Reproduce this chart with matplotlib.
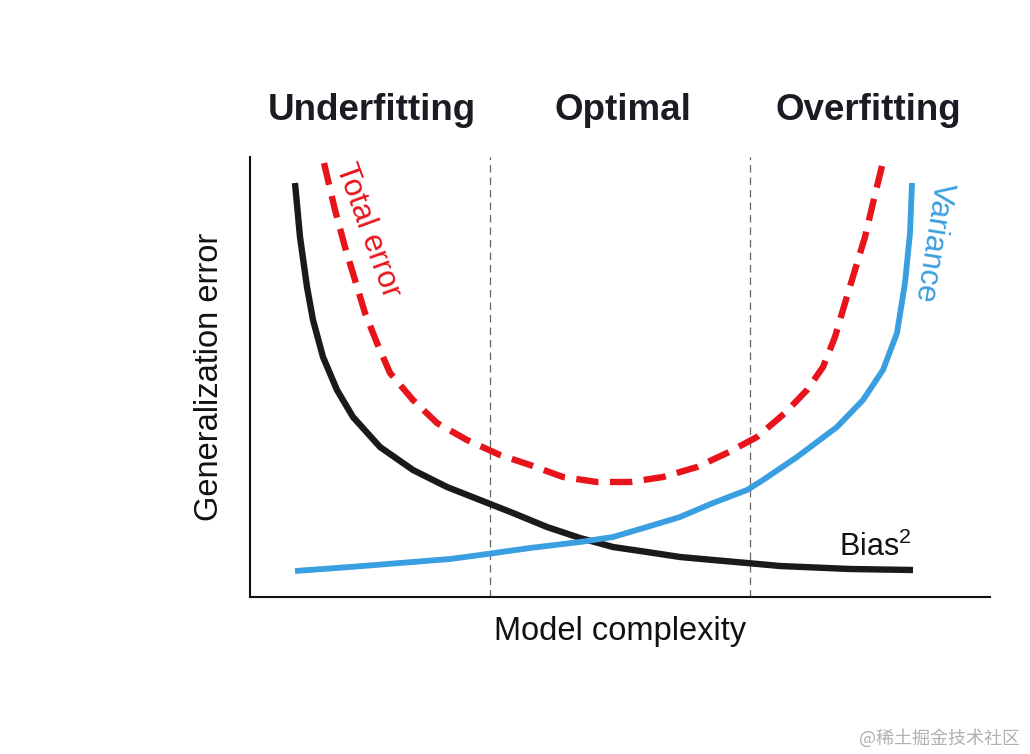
import matplotlib
matplotlib.use("Agg")
import matplotlib.pyplot as plt
import numpy as np

plt.rcParams['font.family'] = ['Liberation Sans', 'DejaVu Sans']
plt.rcParams['mathtext.fontset'] = 'custom'
plt.rcParams['mathtext.rm'] = 'Liberation Sans'
plt.rcParams['mathtext.it'] = 'Liberation Sans'

# Data (arbitrary units: model complexity vs. generalization error)
bias_x = [45, 50, 57, 63, 73, 87, 103, 130, 163, 197, 230, 263, 297, 330, 363,
          397, 430, 463, 497, 530, 600, 663]
bias_y = [414, 360, 310, 277, 240, 207, 180, 150, 127, 110, 97, 84, 70, 59, 50,
          45, 40, 37, 34, 31, 28, 27]

var_x = [45, 100, 150, 200, 230, 280, 330, 363, 397, 430, 463, 497, 513, 547,
         587, 613, 633, 647, 655, 660, 662]
var_y = [26, 30, 34, 38, 42, 49, 55, 60, 70, 80, 94, 107, 117, 140,
         170, 197, 227, 264, 314, 364, 414]

tot_x = [74, 85, 95, 105, 115, 127, 140, 163, 187, 217, 250, 280, 313, 347, 380,
         413, 447, 477, 507, 535, 557, 573, 585, 595, 605, 615, 623, 632]
tot_y = [434, 387, 350, 317, 284, 254, 224, 197, 174, 157, 142, 132, 120, 115, 115,
         120, 130, 144, 160, 184, 207, 230, 260, 294, 327, 360, 394, 431]

regions = ["Underfitting", "Optimal", "Overfitting"]
region_x = [122, 373, 618]
boundaries = [240, 500]

fig = plt.figure(figsize=(10.30, 7.54), dpi=100)
ax = fig.add_axes([250/1030, (754-597)/754, 740/1030, 440/754])
ax.set_xlim(0, 740)
ax.set_ylim(0, 440)

for b in boundaries:
    ax.axvline(b, color='#666666', lw=0.9, ls=(0, (6, 4)), zorder=1)

ax.plot(bias_x, bias_y, color='#1a1a1a', lw=4.6, solid_capstyle='butt',
        solid_joinstyle='round', zorder=3)
ax.plot(var_x, var_y, color='#3a9fe0', lw=4.2, solid_capstyle='butt',
        solid_joinstyle='round', zorder=3)
ax.plot(tot_x, tot_y, color='#e8141b', lw=4.6, ls=(0, (3.5, 1.8)),
        dash_capstyle='butt', zorder=4)

for sp in ['top', 'right']:
    ax.spines[sp].set_visible(False)
for sp in ['left', 'bottom']:
    ax.spines[sp].set_linewidth(1.5)
    ax.spines[sp].set_color('#111111')
ax.set_xticks([])
ax.set_yticks([])

ax.set_xlabel("Model complexity", fontsize=23.5, color='#111111', labelpad=14)
ax.set_ylabel("Generalization error", fontsize=23.5, color='#111111', labelpad=18)

for name, rx in zip(regions, region_x):
    ax.text(rx, 486, name, fontsize=26.5, fontweight='bold', color='#1c1a22',
            ha='center', va='center', clip_on=False)

ax.text(118, 367, "Total error", fontsize=22.5, color='#e8141b', rotation=-70,
        ha='center', va='center', rotation_mode='anchor')
ax.text(683, 355, "Variance", fontsize=22.5, color='#3a9fe0', rotation=-99,
        ha='center', va='center', rotation_mode='anchor')
ax.text(625, 50, r"Bias$^{2}$", fontsize=22, color='#111111', ha='center', va='center')

fig.text(1020/1030, 1 - 738/754, "@稀土掘金技术社区", fontsize=13, color='#b0b0b0',
         ha='right', va='center', family=['Noto Sans CJK SC', 'DejaVu Sans'])

fig.savefig("out.png", dpi=100, facecolor='white')
